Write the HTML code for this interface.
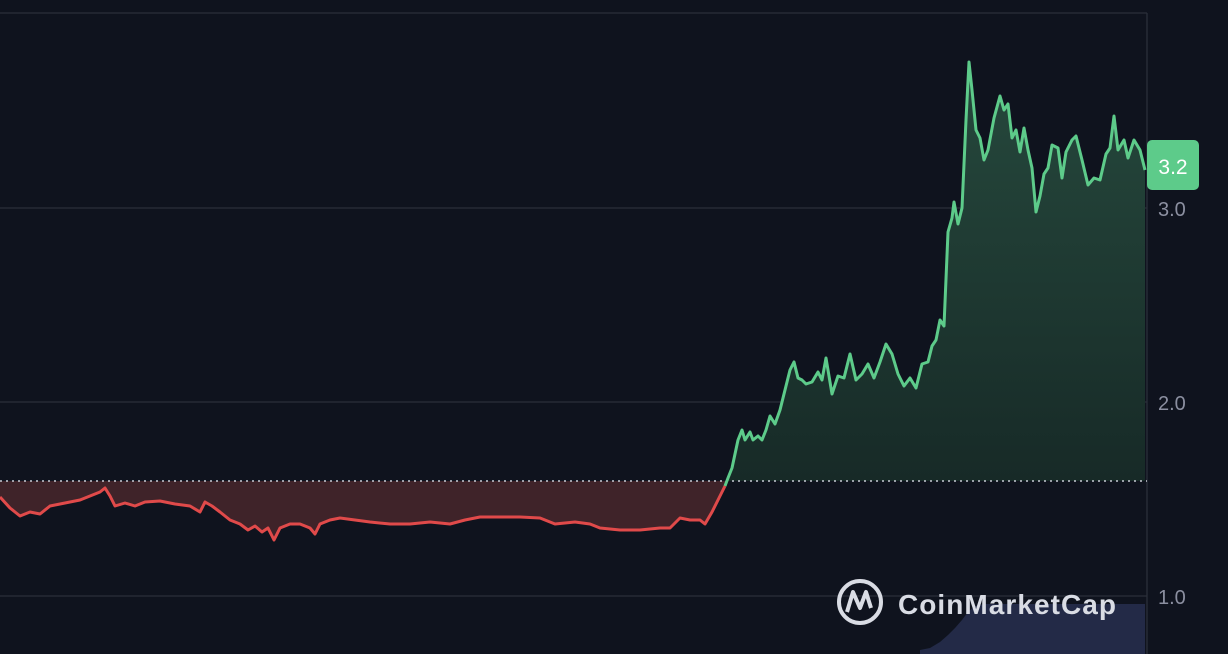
<!DOCTYPE html>
<html><head><style>
html,body{margin:0;padding:0;background:#0f131e;width:1228px;height:654px;overflow:hidden}
svg{display:block}
</style></head><body>
<svg width="1228" height="654" viewBox="0 0 1228 654" xmlns="http://www.w3.org/2000/svg">
<defs>
<linearGradient id="g" x1="0" y1="60" x2="0" y2="481" gradientUnits="userSpaceOnUse">
<stop offset="0" stop-color="#26493d"/>
<stop offset="1" stop-color="#172a27"/>
</linearGradient>
<clipPath id="cg"><rect x="0" y="0" width="1147" height="481"/></clipPath>
<clipPath id="cr"><rect x="0" y="481" width="1147" height="200"/></clipPath>
</defs>
<rect width="1228" height="654" fill="#0f131e"/>
<g stroke="#2b2f3a" stroke-width="1.3">
<line x1="0" y1="13" x2="1147" y2="13"/>
<line x1="0" y1="208" x2="1147" y2="208"/>
<line x1="0" y1="402" x2="1147" y2="402"/>
<line x1="0" y1="596" x2="1147" y2="596"/>
<line x1="1147" y1="13" x2="1147" y2="654"/>
</g>
<path d="M920,654 L920,650 L930,648 L940,642 L948,635 L955,628 L962,620 L968,612 L975,606 L985,604 L1145,604 L1145,654 Z" fill="#232a47"/>
<polygon clip-path="url(#cr)" fill="#3f2329" points="0,481 0,497 10,508 20,516 30,512 40,514 50,506 60,504 70,502 80,500 90,496 100,492 105,488 110,496 115,506 125,503 135,506 145,502 160,501 175,504 190,506 200,512 205,502 212,506 220,512 230,520 240,524 248,530 255,526 262,532 268,528 274,540 280,528 290,524 300,524 310,528 315,534 320,524 330,520 340,518 355,520 370,522 390,524 410,524 430,522 450,524 465,520 480,517 500,517 520,517 540,518 555,524 575,522 590,524 600,528 620,530 640,530 660,528 670,528 680,518 690,520 700,520 705,524 712,512 720,496 725,486 728,478 728,481"/>
<polygon clip-path="url(#cg)" fill="url(#g)" points="725,486 728,478 732,468 738,440 742,430 745,440 750,432 753,440 758,436 762,440 766,430 770,416 775,424 780,410 785,390 790,370 794,362 798,378 802,380 806,384 812,382 818,372 822,380 826,358 832,394 838,376 844,378 850,354 856,380 862,374 868,364 874,378 880,362 886,344 892,354 898,374 904,386 910,378 916,388 922,364 928,362 932,346 936,340 940,320 944,326 948,232 952,218 954,202 958,224 962,208 966,120 969,62 972,90 976,130 980,138 984,160 988,150 994,118 1000,96 1004,110 1008,104 1012,138 1016,130 1020,152 1024,128 1028,150 1032,168 1036,212 1040,196 1044,174 1048,168 1052,145 1058,148 1062,178 1066,152 1072,140 1076,136 1082,160 1088,185 1094,178 1100,180 1106,154 1110,148 1114,116 1118,150 1124,140 1128,158 1134,140 1140,150 1145,170 1145,481 725,481"/>
<line x1="0" y1="481" x2="1147" y2="481" stroke="#c8ccd6" stroke-width="1.5" stroke-dasharray="2,4"/>
<polyline fill="none" stroke="#e04a4a" stroke-width="3" stroke-linejoin="round" points="0,497 10,508 20,516 30,512 40,514 50,506 60,504 70,502 80,500 90,496 100,492 105,488 110,496 115,506 125,503 135,506 145,502 160,501 175,504 190,506 200,512 205,502 212,506 220,512 230,520 240,524 248,530 255,526 262,532 268,528 274,540 280,528 290,524 300,524 310,528 315,534 320,524 330,520 340,518 355,520 370,522 390,524 410,524 430,522 450,524 465,520 480,517 500,517 520,517 540,518 555,524 575,522 590,524 600,528 620,530 640,530 660,528 670,528 680,518 690,520 700,520 705,524 712,512 720,496 725,486"/>
<polyline fill="none" stroke="#5dcb8a" stroke-width="3" stroke-linejoin="round" points="725,486 728,478 732,468 738,440 742,430 745,440 750,432 753,440 758,436 762,440 766,430 770,416 775,424 780,410 785,390 790,370 794,362 798,378 802,380 806,384 812,382 818,372 822,380 826,358 832,394 838,376 844,378 850,354 856,380 862,374 868,364 874,378 880,362 886,344 892,354 898,374 904,386 910,378 916,388 922,364 928,362 932,346 936,340 940,320 944,326 948,232 952,218 954,202 958,224 962,208 966,120 969,62 972,90 976,130 980,138 984,160 988,150 994,118 1000,96 1004,110 1008,104 1012,138 1016,130 1020,152 1024,128 1028,150 1032,168 1036,212 1040,196 1044,174 1048,168 1052,145 1058,148 1062,178 1066,152 1072,140 1076,136 1082,160 1088,185 1094,178 1100,180 1106,154 1110,148 1114,116 1118,150 1124,140 1128,158 1134,140 1140,150 1145,170"/>
<circle cx="860" cy="602" r="21" fill="none" stroke="#d9dce4" stroke-width="4"/>
<path d="M847,612 L853,592 L860,608 L866,592 L871,608" fill="none" stroke="#d9dce4" stroke-width="4" stroke-linejoin="round"/>
<text x="898" y="614" font-family="Liberation Sans, sans-serif" font-size="28" font-weight="bold" fill="#d9dce4" textLength="218">CoinMarketCap</text>
<g font-family="Liberation Sans, sans-serif" font-size="20" fill="#8b8fa0">
<text x="1158" y="216">3.0</text>
<text x="1158" y="410">2.0</text>
<text x="1158" y="604">1.0</text>
</g>
<rect x="1147" y="140" width="52" height="50" rx="5" fill="#5dcb8a"/>
<text x="1173" y="174" text-anchor="middle" font-family="Liberation Sans, sans-serif" font-size="21" fill="#ffffff">3.2</text>
</svg>
</body></html>
